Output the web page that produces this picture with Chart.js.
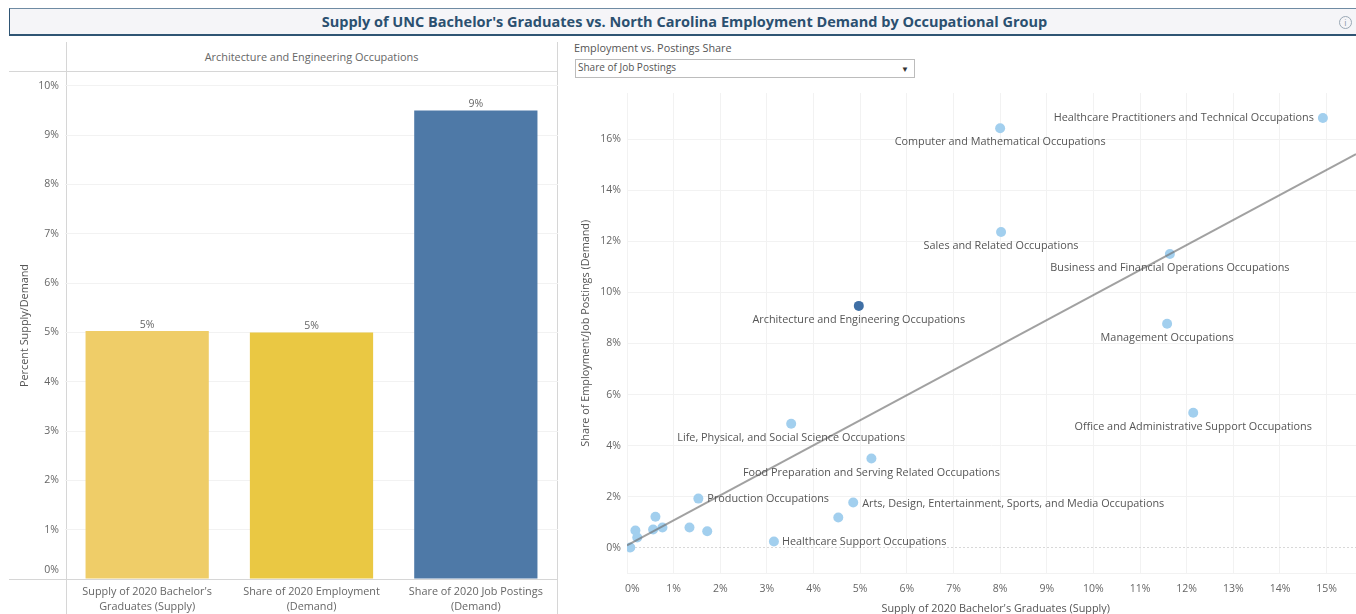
<!DOCTYPE html>
<html>
<head>
<meta charset="utf-8">
<title>Supply vs. Demand</title>
<script src="https://cdn.jsdelivr.net/npm/chart.js@4"></script>
<style>
    html, body { margin: 0; padding: 0; background: #fff; overflow: hidden; }
    body { width: 1356px; height: 614px; position: relative; font-family: "Open Sans", sans-serif; color: #555; overflow: hidden; }
    .abs { position: absolute; }
    #titleBar {
        left: 9px; top: 8px; width: 1347px; height: 25px; box-sizing: content-box;
        background: #f5f5f8; border-top: 1px solid #6f8ba3; border-left: 1px solid #2f5574; border-bottom: 2px solid #2f5574;
        text-align: center; line-height: 25px; font-size: 14.5px; font-weight: 700; color: #2b5070; text-indent: 2px;
    }
    #info { left: 1339px; top: 16px; width: 11px; height: 11px; border: 1px solid #9aa8b5; border-radius: 50%; font-size: 9px; line-height: 11px; text-align: center; color: #8b9aa8; }
    .line { background: #d6d6d6; }
    #panelHead { left: 66px; top: 49px; width: 491px; text-align: center; font-size: 10.9px; line-height: 16px; color: #666; }
    #filterLabel { left: 574px; top: 40px; font-size: 10.85px; line-height: 15px; color: #555; }
    #filter { left: 575px; top: 59px; width: 338px; height: 17px; border: 1px solid #bcbcbc; font-size: 10px; line-height: 15px; color: #555; text-indent: 2px; }
    #filter span { position: absolute; right: 5px; top: 1px; font-size: 8px; color: #333; }
    canvas { position: absolute; }
</style>
</head>
<body>
<div id="titleBar" class="abs">Supply of UNC Bachelor's Graduates vs. North Carolina Employment Demand by Occupational Group</div>
<div id="info" class="abs">i</div>

<div class="abs line" style="left:66px;top:42px;width:1px;height:572px"></div>
<div class="abs line" style="left:557px;top:42px;width:1px;height:572px"></div>
<div class="abs line" style="left:9px;top:71px;width:549px;height:1px"></div>
<div id="panelHead" class="abs">Architecture and Engineering Occupations</div>

<div id="filterLabel" class="abs">Employment vs. Postings Share</div>
<div id="filter" class="abs">Share of Job Postings<span>&#9660;</span></div>

<div class="abs" style="left:9px;top:72px;width:549px;height:543px"><canvas id="barChart"></canvas></div>
<div class="abs" style="left:565px;top:88px;width:796px;height:526px"><canvas id="scatterChart"></canvas></div>
<div class="abs line" style="left:9px;top:579px;width:549px;height:1px"></div>

<script>
const barCategories = [
    ["Supply of 2020 Bachelor's", "Graduates (Supply)"],
    ["Share of 2020 Employment", "(Demand)"],
    ["Share of 2020 Job Postings", "(Demand)"]
];
const barValues = [5.03, 5.0, 9.5];
const barLabels = ["5%", "5%", "9%"];
const barColors = ["#efcd68", "#eac843", "#4e79a7"];

const occupationNames = [
    "Healthcare Practitioners and Technical Occupations",
    "Computer and Mathematical Occupations",
    "Sales and Related Occupations",
    "Business and Financial Operations Occupations",
    "Architecture and Engineering Occupations",
    "Management Occupations",
    "Office and Administrative Support Occupations",
    "Life, Physical, and Social Science Occupations",
    "Food Preparation and Serving Related Occupations",
    "Production Occupations",
    "Arts, Design, Entertainment, Sports, and Media Occupations",
    "",
    "Healthcare Support Occupations",
    "", "", "", "", "", "", "", ""
];
const supplyShare = [14.92, 8.0, 8.02, 11.64, 4.97, 11.58, 12.14, 3.52, 5.24, 1.53, 4.85, 4.53, 3.15, 0.61, 0.18, 0.22, 0.56, 0.76, 1.34, 1.72, 0.07];
const demandShare = [16.82, 16.42, 12.36, 11.5, 9.47, 8.77, 5.29, 4.86, 3.5, 1.93, 1.78, 1.19, 0.25, 1.22, 0.68, 0.41, 0.72, 0.8, 0.8, 0.65, 0.02];
const selectedName = "Architecture and Engineering Occupations";

const trendX = [0, 15.63];
const trendY = [0.1, 15.41];

// where each name sits next to its dot: [align, dx, dy]
const labelPlace = {
    "Healthcare Practitioners and Technical Occupations": ["right", -9, 0],
    "Production Occupations": ["left", 9, 0],
    "Arts, Design, Entertainment, Sports, and Media Occupations": ["left", 9, 1],
    "Healthcare Support Occupations": ["left", 8, 0]
};

const FONT = "'Open Sans', sans-serif";
const FONT_SIZE = 10.85;
const tickColor = "#666";
const gridColor = "#f2f2f2";

// value labels on top of the bars
const barValuePlugin = {
    id: "barValues",
    afterDatasetsDraw(chart) {
        const ctx = chart.ctx;
        ctx.save();
        ctx.font = "10.5px " + FONT;
        ctx.fillStyle = tickColor;
        ctx.textAlign = "center";
        ctx.textBaseline = "bottom";
        chart.getDatasetMeta(0).data.forEach((bar, i) => {
            ctx.fillText(barLabels[i], bar.x, bar.y - 1);
        });
        ctx.restore();
    }
};

// occupation names around the dots
const nameLabelPlugin = {
    id: "nameLabels",
    afterDatasetsDraw(chart) {
        const ctx = chart.ctx;
        const meta = chart.getDatasetMeta(1);
        ctx.save();
        ctx.font = FONT_SIZE + "px " + FONT;
        ctx.fillStyle = "#555";
        ctx.textBaseline = "middle";
        meta.data.forEach((pt, i) => {
            const name = occupationNames[i];
            if (!name) return;
            const place = labelPlace[name] || ["center", 0, 14];
            ctx.textAlign = place[0];
            ctx.fillText(name, pt.x + place[1], pt.y + place[2]);
        });
        ctx.restore();
    }
};

// stop the scales from reserving room for their outer labels
function noPadding(scale) {
    scale.paddingTop = 0;
    scale.paddingBottom = 0;
    scale.paddingLeft = 0;
    scale.paddingRight = 0;
}

new Chart(document.getElementById("barChart"), {
    type: "bar",
    data: {
        labels: barCategories,
        datasets: [{
            data: barValues,
            backgroundColor: barColors,
            categoryPercentage: 1,
            barPercentage: 0.75
        }]
    },
    plugins: [barValuePlugin],
    options: {
        responsive: true,
        maintainAspectRatio: false,
        animation: false,
        layout: { padding: 0 },
        plugins: { legend: { display: false }, tooltip: { enabled: false } },
        scales: {
            x: {
                grid: { display: false, drawTicks: false },
                border: { display: false },
                ticks: { color: tickColor, font: { family: FONT, size: FONT_SIZE, lineHeight: 1.4 }, padding: 5, maxRotation: 0, autoSkip: false },
                afterFit(scale) { scale.height = 36; noPadding(scale); }
            },
            y: {
                min: 0,
                max: 10.28,
                grid: { color: gridColor, drawTicks: false },
                border: { display: false },
                title: { display: true, text: "Percent Supply/Demand", color: "#555", font: { family: FONT, size: FONT_SIZE }, padding: { top: 9, bottom: 0 } },
                ticks: {
                    stepSize: 1,
                    includeBounds: false,
                    color: tickColor,
                    font: { family: FONT, size: 10.5, lineHeight: 1.75 },
                    padding: 6,
                    // the bottom label sits a bit above its line
                    callback: v => v === 0 ? ["0%", ""] : v + "%"
                },
                afterFit(scale) { scale.width = 56; noPadding(scale); }
            }
        }
    }
});

new Chart(document.getElementById("scatterChart"), {
    type: "scatter",
    data: {
        datasets: [
            {
                type: "line",
                data: trendX.map((x, i) => ({ x: x, y: trendY[i] })),
                borderColor: "rgba(110,110,110,0.65)",
                borderWidth: 2,
                pointRadius: 0,
                order: 0
            },
            {
                data: supplyShare.map((x, i) => ({ x: x, y: demandShare[i] })),
                pointRadius: 5,
                pointBorderWidth: 0,
                pointBackgroundColor: occupationNames.map(n => n === selectedName ? "#3f6fa5" : "#a2cfee"),
                order: 1
            }
        ]
    },
    plugins: [nameLabelPlugin],
    options: {
        responsive: true,
        maintainAspectRatio: false,
        animation: false,
        layout: { padding: 0 },
        plugins: { legend: { display: false }, tooltip: { enabled: false } },
        scales: {
            x: {
                type: "linear",
                min: 0,
                max: 15.63,
                grid: { color: gridColor, drawTicks: false },
                border: { color: gridColor },
                title: { display: true, text: "\u00a0\u00a0\u00a0Supply of 2020 Bachelor's Graduates (Supply)", color: "#555", font: { family: FONT, size: FONT_SIZE }, padding: { top: 6, bottom: -1 } },
                ticks: {
                    stepSize: 1,
                    includeBounds: false,
                    color: tickColor,
                    font: { family: FONT, size: 10.5 },
                    padding: 9,
                    maxRotation: 0,
                    autoSkip: false,
                    callback: v => v === 0 ? "\u00a0\u00a0\u00a0\u00a00%" : v + "%"
                },
                afterFit(scale) { scale.height = 40.5; noPadding(scale); }
            },
            y: {
                min: -1,
                max: 17.8,
                grid: {
                    color: c => c.tick && c.tick.value === 0 ? "#d8d8d8" : gridColor,
                    drawTicks: false
                },
                border: { display: false, dash: c => c.tick && c.tick.value === 0 ? [2, 2] : [] },
                title: { display: true, text: "Share of Employment/Job Postings (Demand)", color: "#555", font: { family: FONT, size: FONT_SIZE }, padding: { top: 14, bottom: 0 } },
                ticks: {
                    stepSize: 2,
                    includeBounds: false,
                    color: tickColor,
                    font: { family: FONT, size: 10.5 },
                    padding: 6,
                    callback: v => v + "%"
                },
                afterFit(scale) { scale.width = 62; noPadding(scale); }
            }
        }
    }
});
</script>
</body>
</html>
